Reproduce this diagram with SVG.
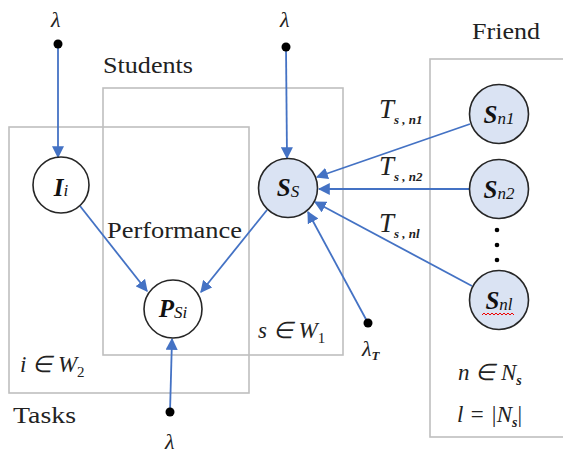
<svg xmlns="http://www.w3.org/2000/svg" width="563" height="453" viewBox="0 0 563 453">
<style>
.box{fill:none;stroke:#bfbfbf;stroke-width:1.6}
.lbl{font-size:24px;fill:#222}
.m{font-style:italic;fill:#222}
.node{stroke:#262626;stroke-width:1.6}
.w{fill:#fff}
.b{fill:#dae3f3}
.nl{font-style:italic;font-weight:bold;font-size:25px;fill:#111;text-anchor:middle}
.sub{font-size:17px;font-weight:normal}
.c line{stroke:#4472c4;stroke-width:1.8}
.dot{fill:#000}
</style>
<defs>
<marker id="ah" viewBox="0 0 10 10" refX="9" refY="5" markerWidth="12" markerHeight="12" markerUnits="userSpaceOnUse" orient="auto">
<path d="M0,0 L10,5 L0,10 z" fill="#4472c4"/>
</marker>
</defs>
<rect width="563" height="453" fill="#fff"/>
<g id="boxes">
<rect class="box" x="9" y="127" width="240" height="266"/>
<rect class="box" x="103" y="88" width="240" height="267"/>
<rect class="box" x="430" y="59" width="140" height="378"/>
</g>
<g id="box-labels" font-family="Liberation Serif, serif">
<text class="lbl" x="103" y="73" textLength="90" lengthAdjust="spacingAndGlyphs">Students</text>
<text class="lbl" x="472" y="39" textLength="68" lengthAdjust="spacingAndGlyphs">Friend</text>
<text class="lbl" x="107" y="238" textLength="135" lengthAdjust="spacingAndGlyphs">Performance</text>
<text class="lbl" x="13" y="423" textLength="63" lengthAdjust="spacingAndGlyphs">Tasks</text>
<text class="m" x="20" y="372" font-size="23">i ∈ W<tspan font-size="15" font-style="normal" dy="5">2</tspan></text>
<text class="m" x="258" y="338" font-size="23">s ∈ W<tspan font-size="15" font-style="normal" dy="5">1</tspan></text>
<text class="m" x="458" y="380" font-size="23">n ∈ N<tspan font-size="14" font-weight="bold" dy="5">s</tspan></text>
<text class="m" x="457" y="422" font-size="23">l = |N<tspan font-size="14" font-weight="bold" dy="5">s</tspan><tspan dy="-5" font-style="normal">|</tspan></text>
</g>
<g id="connectors" class="c">
<line x1="58" y1="44" x2="58" y2="157" marker-end="url(#ah)"/>
<line x1="286" y1="47" x2="287" y2="158" marker-end="url(#ah)"/>
<line x1="170" y1="412" x2="172" y2="339" marker-end="url(#ah)"/>
<line x1="368" y1="323" x2="308" y2="212" marker-end="url(#ah)"/>
<line x1="80" y1="206" x2="147" y2="291" marker-end="url(#ah)"/>
<line x1="267" y1="210" x2="201" y2="292" marker-end="url(#ah)"/>
<line x1="470" y1="124" x2="317" y2="177" marker-end="url(#ah)"/>
<line x1="469" y1="189" x2="319" y2="189" marker-end="url(#ah)"/>
<line x1="472" y1="286" x2="315" y2="202" marker-end="url(#ah)"/>
<circle class="dot" cx="58" cy="44" r="4.5"/>
<circle class="dot" cx="286" cy="47" r="4.5"/>
<circle class="dot" cx="170" cy="412" r="4.5"/>
<circle class="dot" cx="368" cy="323" r="4.5"/>
</g>
<g id="connector-labels" font-family="Liberation Serif, serif">
<text class="m" x="51" y="27" font-size="22">λ</text>
<text class="m" x="280" y="27" font-size="22">λ</text>
<text class="m" x="165" y="449" font-size="22">λ</text>
<text class="m" x="362" y="356" font-size="22">λ<tspan font-size="13" font-weight="bold" dy="4">T</tspan></text>
<text class="m" x="379" y="118" font-size="27">T<tspan font-size="13" font-weight="bold" dy="6">s , n1</tspan></text>
<text class="m" x="379" y="175" font-size="27">T<tspan font-size="13" font-weight="bold" dy="6">s , n2</tspan></text>
<text class="m" x="379" y="232" font-size="27">T<tspan font-size="13" font-weight="bold" dy="6">s , nl</tspan></text>
</g>
<g id="node-I" font-family="Liberation Serif, serif">
<circle class="node w" cx="61" cy="185" r="28"/>
<text class="nl" x="61" y="196">I<tspan class="sub">i</tspan></text>
</g>
<g id="node-S" font-family="Liberation Serif, serif">
<circle class="node b" cx="288" cy="188" r="29.5"/>
<text class="nl" x="288" y="196">S<tspan class="sub" dy="1">S</tspan></text>
</g>
<g id="node-P" font-family="Liberation Serif, serif">
<circle class="node w" cx="173" cy="309" r="29"/>
<text class="nl" x="173" y="317">P<tspan class="sub" dy="1">Si</tspan></text>
</g>
<g id="node-Sn1" font-family="Liberation Serif, serif">
<circle class="node b" cx="499" cy="114" r="29.5"/>
<text class="nl" x="499" y="123">S<tspan class="sub" font-size="14" dy="1">n1</tspan></text>
</g>
<g id="node-Sn2" font-family="Liberation Serif, serif">
<circle class="node b" cx="499" cy="189" r="29.5"/>
<text class="nl" x="499" y="198">S<tspan class="sub" font-size="14" dy="1">n2</tspan></text>
</g>
<g id="node-Snl" font-family="Liberation Serif, serif">
<circle class="node b" cx="499" cy="300" r="29.5"/>
<text class="nl" x="499" y="309">S<tspan class="sub" font-size="14" dy="1">nl</tspan></text>
<polyline points="482,315 484,313 486,315 488,313 490,315 492,313 494,315 496,313 498,315 500,313 502,315 504,313 506,315 508,313 510,315 512,313 514,315" fill="none" stroke="#e00" stroke-width="1"/>
</g>
<g id="ellipsis">
<circle class="dot" cx="497" cy="230" r="2.3"/>
<circle class="dot" cx="497" cy="245" r="2.3"/>
<circle class="dot" cx="497" cy="260" r="2.3"/>
</g>
</svg>
